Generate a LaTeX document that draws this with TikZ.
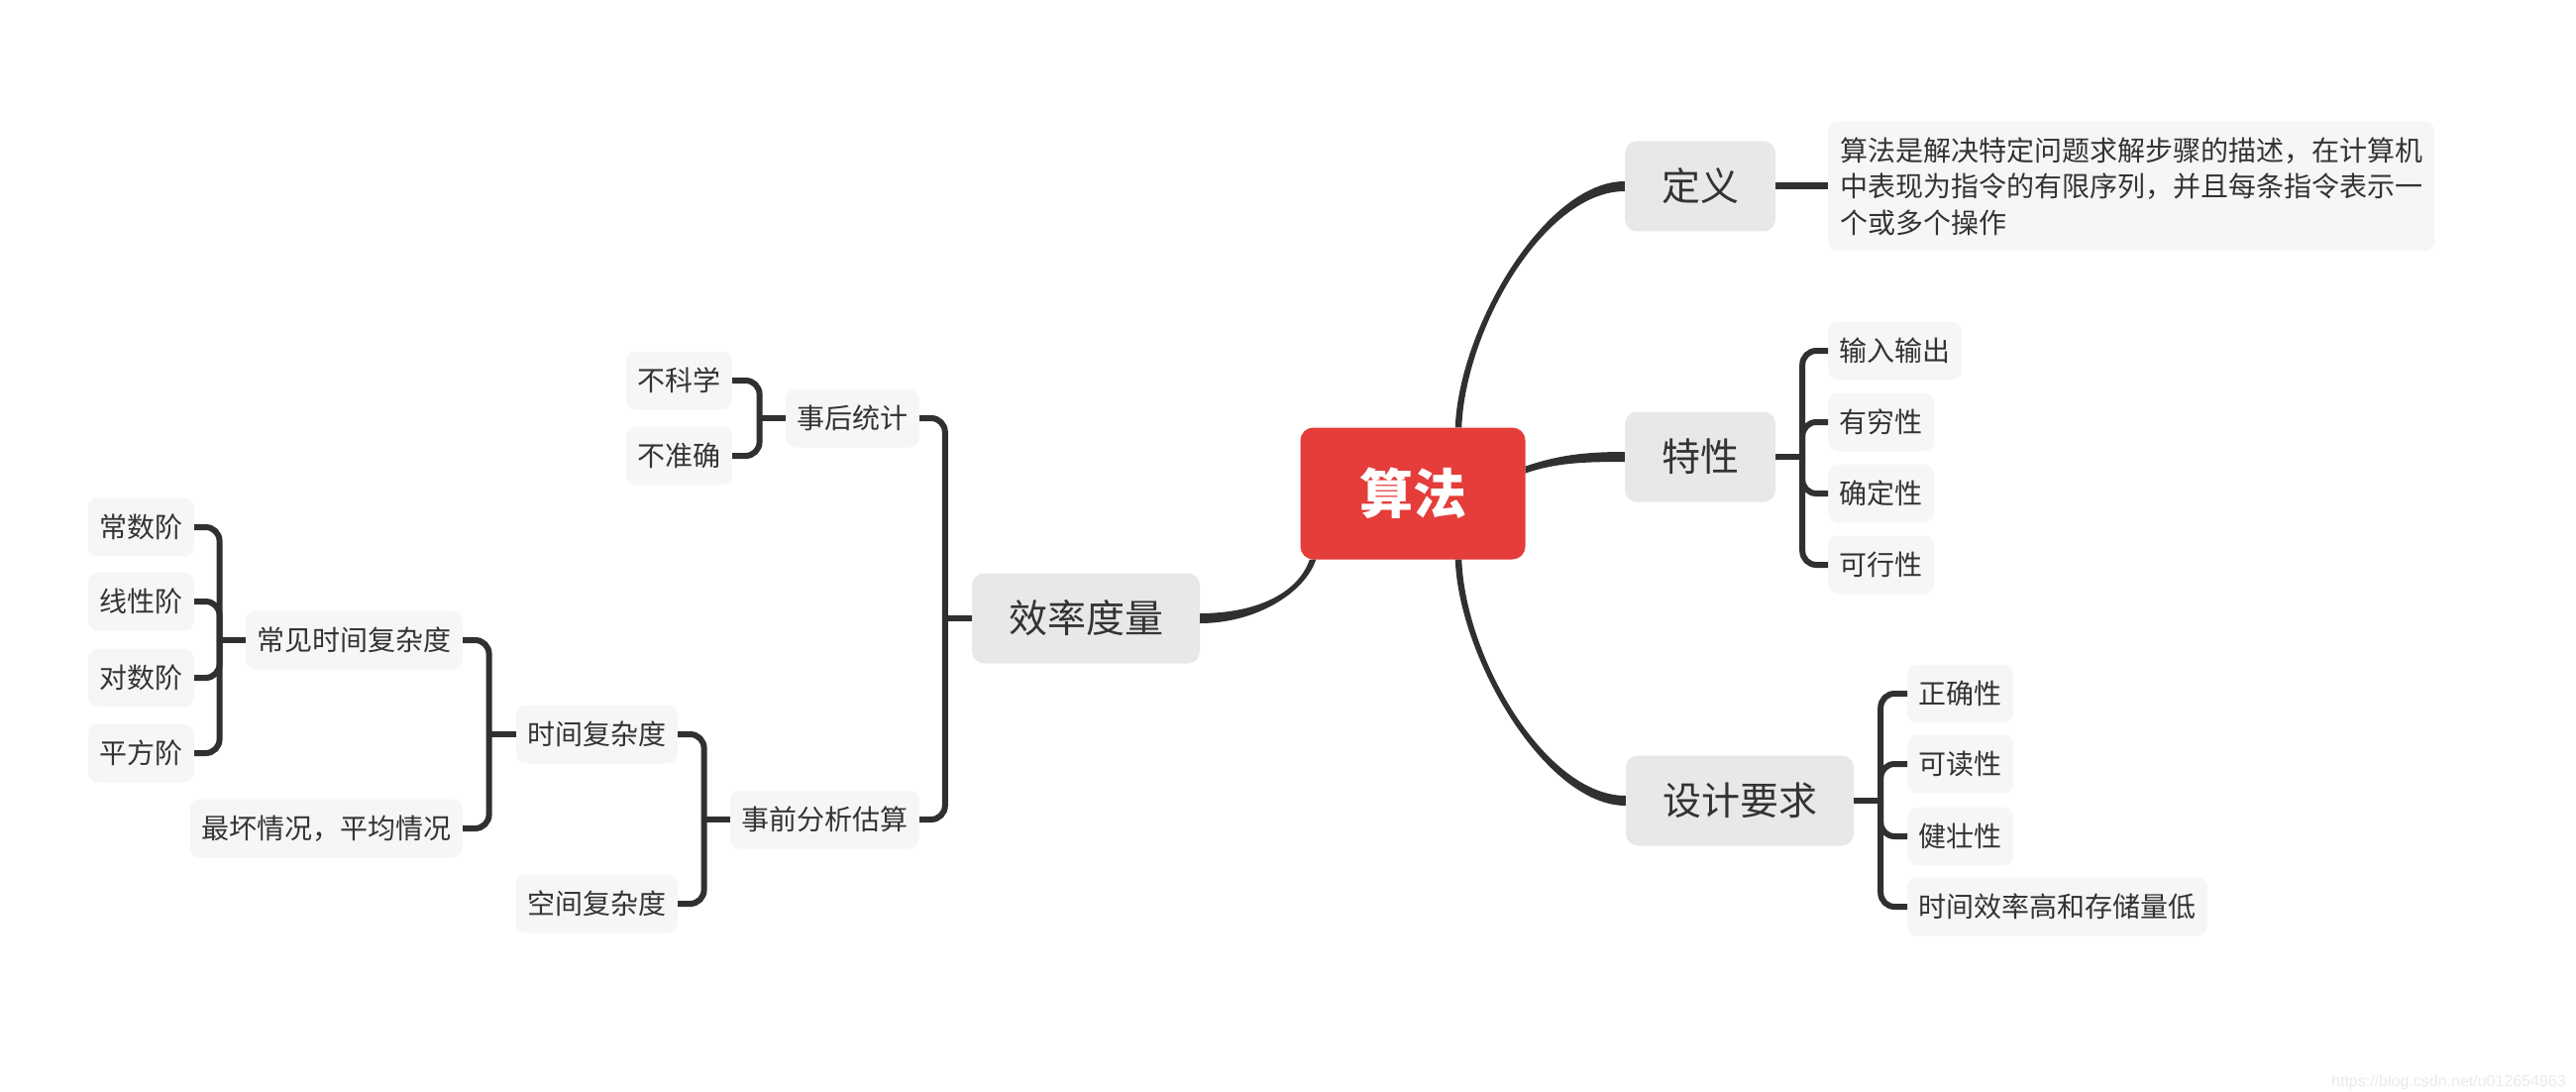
\documentclass[tikz,border=0pt]{standalone}
\usepackage{fontspec}
\setmainfont{Noto Sans CJK SC}
\newfontfamily\wmfont{Liberation Sans}
\usetikzlibrary{calc}
\definecolor{ink}{RGB}{51,51,51}
\definecolor{lineC}{RGB}{48,48,48}
\definecolor{rootred}{RGB}{228,61,58}
\definecolor{lvone}{RGB}{232,232,232}
\definecolor{leafC}{RGB}{246,246,246}
\definecolor{wmC}{RGB}{234,234,234}
\tikzset{
  rootbox/.style={fill=rootred, rounded corners=13pt, minimum width=227pt, minimum height=133pt, inner sep=0pt, text=white, font=\fontsize{54}{60}\selectfont\bfseries},
  topicbox/.style={fill=lvone, rounded corners=12pt, minimum height=91pt, inner xsep=37pt, inner ysep=0pt, text=ink, font=\fontsize{39}{46}\selectfont},
  leafbox/.style={fill=leafC, rounded corners=10pt, minimum height=59pt, inner xsep=11.5pt, inner ysep=0pt, text=ink, font=\fontsize{28}{36}\selectfont},
  conn/.style={fill=lineC},
  br/.style={draw=lineC, line width=6pt, rounded corners=14pt},
}
\begin{document}
\begin{tikzpicture}[x=1pt,y=-1pt]
\useasboundingbox (0,0) rectangle (2600,1102);
% main nodes
\node[rootbox] (root) at (1426,498) {算法};
\node[topicbox] (def) at (1716,188) {定义};
\node[topicbox] (tex) at (1716,461) {特性};
\node[topicbox] (sj) at (1756,808) {设计要求};
\node[topicbox] (xl) at (1096,624) {效率度量};
% definition
\node[leafbox, anchor=west, align=left, minimum width=609pt, minimum height=131pt, inner xsep=12pt, font=\fontsize{28}{36.5}\selectfont] (deft) at (1845,188)
  {算法是解决特定问题求解步骤的描述，在计算机\\中表现为指令的有限序列，并且每条指令表示一\\个或多个操作};
% properties
\node[leafbox, anchor=west] (t1) at (1845,354) {输入输出};
\node[leafbox, anchor=west] (t2) at (1845,426) {有穷性};
\node[leafbox, anchor=west] (t3) at (1845,498) {确定性};
\node[leafbox, anchor=west] (t4) at (1845,570) {可行性};
% design requirements
\node[leafbox, anchor=west] (s1) at (1925,700) {正确性};
\node[leafbox, anchor=west] (s2) at (1925,771) {可读性};
\node[leafbox, anchor=west] (s3) at (1925,844) {健壮性};
\node[leafbox, anchor=west] (s4) at (1925,915) {时间效率高和存储量低};
% efficiency (left side)
\node[leafbox, anchor=east] (hs) at (928,422) {事后统计};
\node[leafbox, anchor=east] (qf) at (928,827) {事前分析估算};
\node[leafbox, anchor=east] (bk) at (739,384) {不科学};
\node[leafbox, anchor=east] (bz) at (739,460) {不准确};
\node[leafbox, anchor=east] (sjf) at (684,741) {时间复杂度};
\node[leafbox, anchor=east] (kjf) at (684,912) {空间复杂度};
\node[leafbox, anchor=east] (cj) at (467,646) {常见时间复杂度};
\node[leafbox, anchor=east] (zh) at (467,836) {最坏情况，平均情况};
\node[leafbox, anchor=east] (c1) at (196,532) {常数阶};
\node[leafbox, anchor=east] (c2) at (196,607) {线性阶};
\node[leafbox, anchor=east] (c3) at (196,684) {对数阶};
\node[leafbox, anchor=east] (c4) at (196,760) {平方阶};
% watermark
\node[anchor=east, text=wmC, font=\wmfont\fontsize{16}{18}\selectfont, inner sep=0pt] (wmk) at (2590,1092) {https://blog.csdn.net/u012654963};
% tapered main curves
\coordinate (rtop) at ($(root.north)+(46,0)$);
\coordinate (rbot) at ($(root.south)+(46,0)$);
\coordinate (rright) at ($(root.east)+(0,-24)$);
\coordinate (rbl) at ($(root.south)+(-101,0)$);
\fill[conn] ($(rtop)+(-3.25,0)$) .. controls +(4,-101) and +(-80,0) .. ($(def.west)+(0,-5)$)
  -- ($(def.west)+(0,5)$) .. controls +(-80,0) and +(4,-101) .. ($(rtop)+(3.25,0)$) -- cycle;
\fill[conn] ($(rbot)+(-3.25,0)$) .. controls +(4,101) and +(-80,0) .. ($(sj.west)+(0,5)$)
  -- ($(sj.west)+(0,-5)$) .. controls +(-80,0) and +(4,101) .. ($(rbot)+(3.25,0)$) -- cycle;
\fill[conn] ($(rright)+(0,-3.5)$) .. controls +(30,-10) and +(-45,0) .. ($(tex.west)+(0,-5)$)
  -- ($(tex.west)+(0,5)$) .. controls +(-45,0) and +(30,-10) .. ($(rright)+(0,3.5)$) -- cycle;
\fill[conn] ($(rbl)+(-3.25,0)$) .. controls +(-12,35) and +(55,0) .. ($(xl.east)+(0,-5)$)
  -- ($(xl.east)+(0,5)$) .. controls +(55,0) and +(-12,35) .. ($(rbl)+(3.25,0)$) -- cycle;
% definition link
\draw[draw=lineC, line width=7pt] (def.east) -- (deft.west);
% brackets right
\coordinate (texsp) at ($(tex.east)+(27,0)$);
\draw[br] (tex.east) -- (texsp);
\foreach \c in {t1,t2,t3,t4} \draw[br] (texsp) |- (\c.west);
\coordinate (sjsp) at ($(sj.east)+(27,0)$);
\draw[br] (sj.east) -- (sjsp);
\foreach \c in {s1,s2,s3,s4} \draw[br] (sjsp) |- (\c.west);
% brackets left
\coordinate (xlsp) at ($(xl.west)+(-27,0)$);
\draw[br] (xl.west) -- (xlsp);
\foreach \c in {hs,qf} \draw[br] (xlsp) |- (\c.east);
\coordinate (hssp) at ($(hs.west)+(-26,0)$);
\draw[br] (hs.west) -- (hssp);
\foreach \c in {bk,bz} \draw[br] (hssp) |- (\c.east);
\coordinate (qfsp) at ($(qf.west)+(-26,0)$);
\draw[br] (qf.west) -- (qfsp);
\foreach \c in {sjf,kjf} \draw[br] (qfsp) |- (\c.east);
\coordinate (sjfsp) at ($(sjf.west)+(-27,0)$);
\draw[br] (sjf.west) -- (sjfsp);
\foreach \c in {cj,zh} \draw[br] (sjfsp) |- (\c.east);
\coordinate (cjsp) at ($(cj.west)+(-26,0)$);
\draw[br] (cj.west) -- (cjsp);
\foreach \c in {c1,c2,c3,c4} \draw[br] (cjsp) |- (\c.east);
\end{tikzpicture}
\end{document}
